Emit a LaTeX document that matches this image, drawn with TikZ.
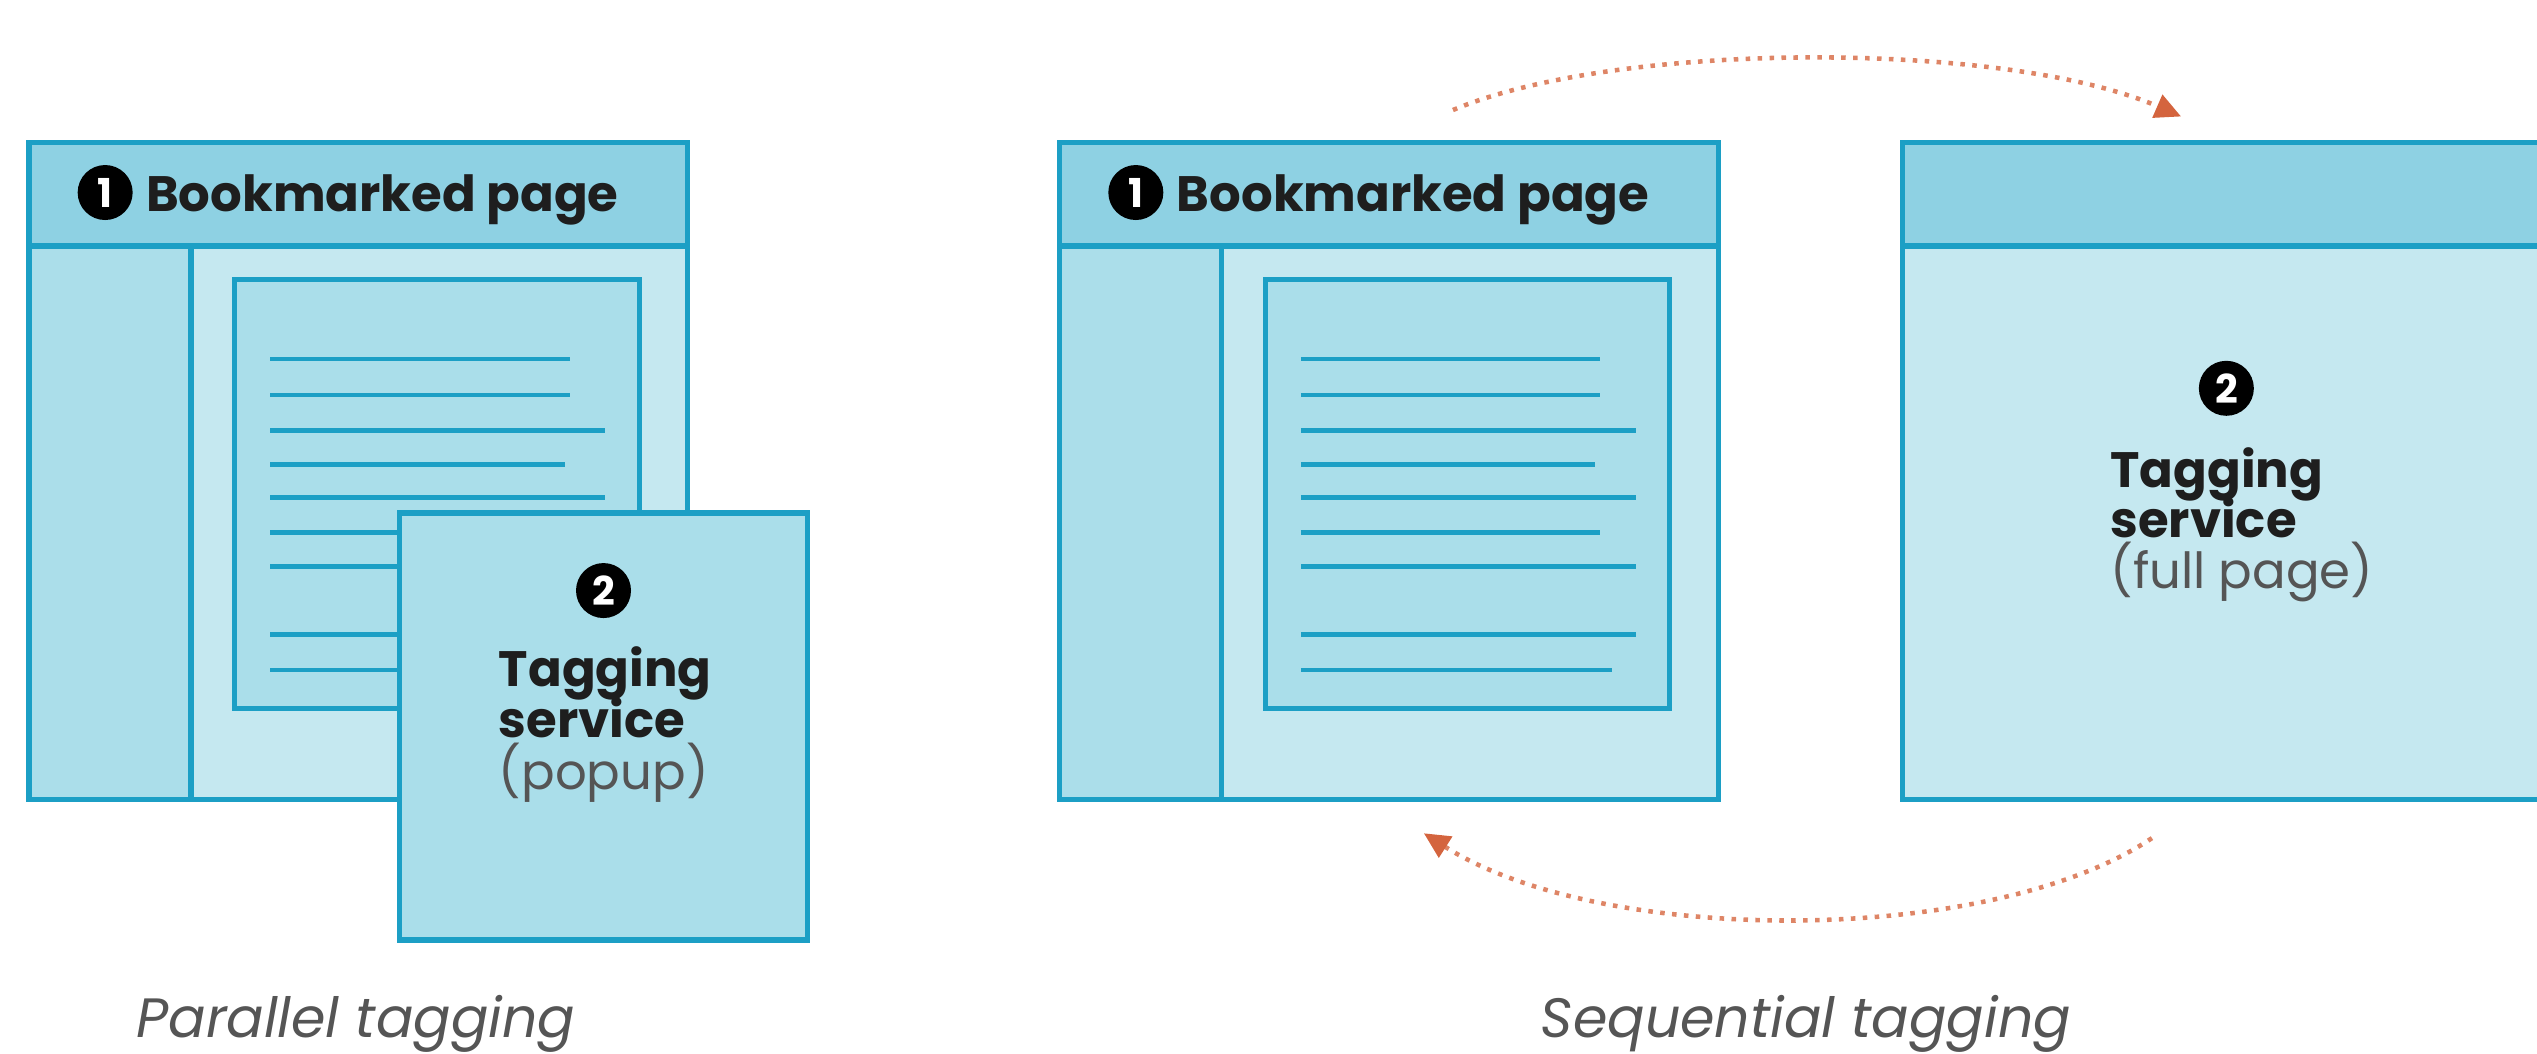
\documentclass[tikz,border=0pt]{standalone}
\usepackage{fontspec}
\setmainfont{Poppins}
\usetikzlibrary{arrows.meta}
\definecolor{hdr}{HTML}{8ED1E3}
\definecolor{brd}{HTML}{1C9FC5}
\definecolor{side}{HTML}{ABDEEA}
\definecolor{cont}{HTML}{C5E8F0}
\definecolor{docf}{HTML}{AADEEA}
\definecolor{arrc}{HTML}{D4643E}
\definecolor{arrl}{HTML}{DE8566}
\definecolor{txtc}{HTML}{1E1E1E}
\definecolor{subc}{HTML}{555555}
\definecolor{capc}{HTML}{555555}
\begin{document}
\begin{tikzpicture}[x=0.02cm,y=-0.02cm,
  frame/.style={draw=brd,line width=1.9pt},
  docframe/.style={draw=brd,line width=1.7pt,fill=docf},
  docline/.style={draw=brd,line width=1.6pt},
  num/.style={circle,fill=black,text=white,inner sep=0pt,minimum size=0.68cm,font=\bfseries\fontsize{14}{14}\selectfont},
  hdrtext/.style={anchor=base west,inner sep=0pt,text=txtc,font=\bfseries\fontsize{17.5}{18}\selectfont},
  subtext/.style={anchor=base west,inner sep=0pt,text=subc,font=\fontsize{17.5}{18}\selectfont},
  captext/.style={anchor=base west,inner sep=0pt,text=capc,font=\itshape\fontsize{19.5}{22}\selectfont},
  flow/.style={draw=arrl,line width=1.6pt,dash pattern=on 1.6pt off 2.6pt,
     -{Triangle[length=0.32cm,width=0.3cm,fill=arrc,color=arrc]}}]
\useasboundingbox (0,0) rectangle (1568,651);
\clip (0,0) rectangle (1568,651);

% ---------- window with sidebar and document (left and middle) ----------
\foreach \dx/\nm in {0/a,637/b}{
  \begin{scope}[xshift=\dx*0.02cm]
    \fill[cont] (18,88) rectangle (425,494);
    \fill[side] (18,152) rectangle (118,494);
    \fill[hdr] (18,88) rectangle (425,152);
    \draw[frame] (18,88) rectangle (425,494);
    \draw[frame] (18,152) -- (425,152);
    \draw[frame] (118,152) -- (118,494);
    \draw[docframe] (145,173) rectangle (395,438);
    \foreach \y/\l in {222/207,244/207,266/229,287/204,307.5/229,329/207,350/229,392/229,414/214}
      \draw[docline] (167,\y) -- (145+\l,\y);
    \node[num] (one\nm) at (65,119) {1};
    \node[hdrtext] (bm\nm) at (90,131) {Bookmarked page};
  \end{scope}
}

% ---------- popup ----------
\draw[frame,fill=docf] (247,317) rectangle (499,581);
\node[num] (twoa) at (373,365) {2};
\node[hdrtext] (tga) at (308,424.5) {Tagging};
\node[hdrtext] (sva) at (308,456) {service};
\node[subtext] (ppa) at (308,488) {(popup)};

% ---------- full page tagging window (right) ----------
\fill[cont] (1176,88) rectangle (1600,494);
\fill[hdr] (1176,88) rectangle (1600,152);
\draw[frame] (1600,88) -- (1176,88) -- (1176,494) -- (1600,494);
\draw[frame] (1176,152) -- (1600,152);
\node[num] (twob) at (1376,240) {2};
\node[hdrtext] (tgb) at (1304,301) {Tagging};
\node[hdrtext] (svb) at (1304,332.5) {service};
\node[subtext] (fpb) at (1304,364) {(full page)};

% ---------- arrows ----------
\coordinate (ts) at (898,68);
\coordinate (te) at (1348,72);
\coordinate (bs) at (1330,518);
\coordinate (be) at (880,515);
\draw[flow] (ts) .. controls (1000,25) and (1240,25) .. (te);
\draw[flow] (bs) .. controls (1230,585) and (990,585) .. (be);

% ---------- captions ----------
\node[captext] (cap1) at (84,641) {Parallel tagging};
\node[captext] (cap2) at (952,641) {Sequential tagging};
\end{tikzpicture}
\end{document}
